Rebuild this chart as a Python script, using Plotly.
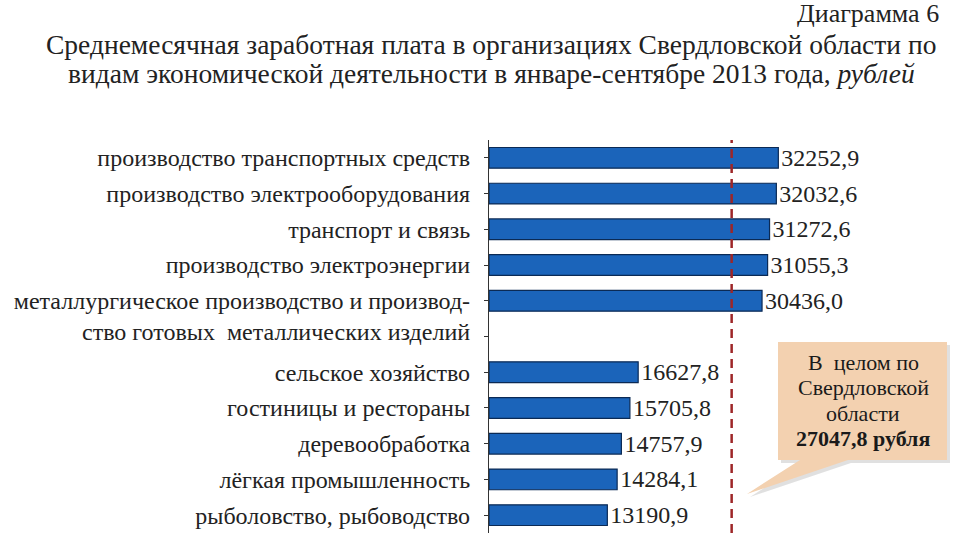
import plotly.graph_objects as go

categories = [
    "производство транспортных средств",
    "производство электрооборудования",
    "транспорт и связь",
    "производство электроэнергии",
    " <br>металлургическое производство и производ-<br>ство готовых  металлических изделий",
    " ",
    "сельское хозяйство",
    "гостиницы и рестораны",
    "деревообработка",
    "лёгкая промышленность",
    "рыболовство, рыбоводство",
]
values = [32252.9, 32032.6, 31272.6, 31055.3, 30436.0, None,
          16627.8, 15705.8, 14757.9, 14284.1, 13190.9]
value_labels = ["32252,9", "32032,6", "31272,6", "31055,3", "30436,0", "",
                "16627,8", "15705,8", "14757,9", "14284,1", "13190,9"]
regional_average = 27047.8
average_lines = ["В  целом по", "Свердловской", "области", "<b>27047,8 рубля</b>"]
title_corner = "Диаграмма 6"
title_lines = ["Среднемесячная заработная плата в организациях Свердловской области по",
               "видам экономической деятельности в январе-сентябре 2013 года, <i>рублей</i>"]

FONT = "Liberation Serif"

# plot area pixel geometry
L, R, T, B = 489, 5, 140, 11
W, H = 960, 544
pw, ph = W - L - R, H - T - B
xmax = pw / 0.008971


def px(x):
    return (x - L) / pw


def py(y):
    return (H - B - y) / ph


fig = go.Figure()
fig.add_trace(go.Bar(
    y=categories, x=values, orientation="h",
    marker=dict(color="#1b64ba", line=dict(color="#0b2a55", width=1.2)),
    width=0.58,
    text=value_labels, textposition="outside", constraintext="none",
    textfont=dict(family=FONT, size=24, color="#222"),
    cliponaxis=False,
))

fig.add_vline(x=regional_average, line=dict(color="#9e2628", width=2.5, dash="9px,6px"))

# callout shadow and box
box = [(778, 342), (947, 342), (947, 460), (848, 460), (747, 494), (800, 460), (778, 460)]


def path(pts, dx=0, dy=0):
    s = "M " + " L ".join(f"{px(x+dx):.4f},{py(y+dy):.4f}" for x, y in pts) + " Z"
    return s


fig.add_shape(type="path", xref="paper", yref="paper", path=path(box, 3, 3),
              fillcolor="rgba(0,0,0,0.12)", line=dict(width=0), layer="above")
fig.add_shape(type="path", xref="paper", yref="paper", path=path(box),
              fillcolor="#f3d1b0", line=dict(width=0), layer="above")
for i, line in enumerate(average_lines):
    fig.add_annotation(xref="paper", yref="paper", x=px(863), y=py(362 + 25.5 * i),
                       xanchor="center", yanchor="middle",
                       text=line, showarrow=False,
                       font=dict(family=FONT, size=22, color="#1a1a1a"))

fig.add_annotation(xref="paper", yref="paper", x=px(941), y=py(14),
                   xanchor="right", yanchor="middle",
                   text=title_corner, showarrow=False,
                   font=dict(family=FONT, size=26, color="#222"))
for i, line in enumerate(title_lines):
    fig.add_annotation(xref="paper", yref="paper", x=px(491), y=py(44 + 30 * i),
                       xanchor="center", yanchor="middle",
                       text=line, showarrow=False,
                       font=dict(family=FONT, size=27.5, color="#222"))

fig.update_layout(
    width=W, height=H,
    margin=dict(l=L, r=R, t=T, b=B),
    paper_bgcolor="white", plot_bgcolor="white",
    showlegend=False, bargap=0.42,
    xaxis=dict(range=[0, xmax], visible=False, fixedrange=True),
    yaxis=dict(autorange="reversed", showline=True, linecolor="#333", linewidth=1.2,
               ticks="outside", ticklen=4, tickcolor="#333",
               tickfont=dict(family=FONT, size=24, color="#222"),
               showgrid=False, ticklabelstandoff=9),
)

fig.write_html("out.html")
